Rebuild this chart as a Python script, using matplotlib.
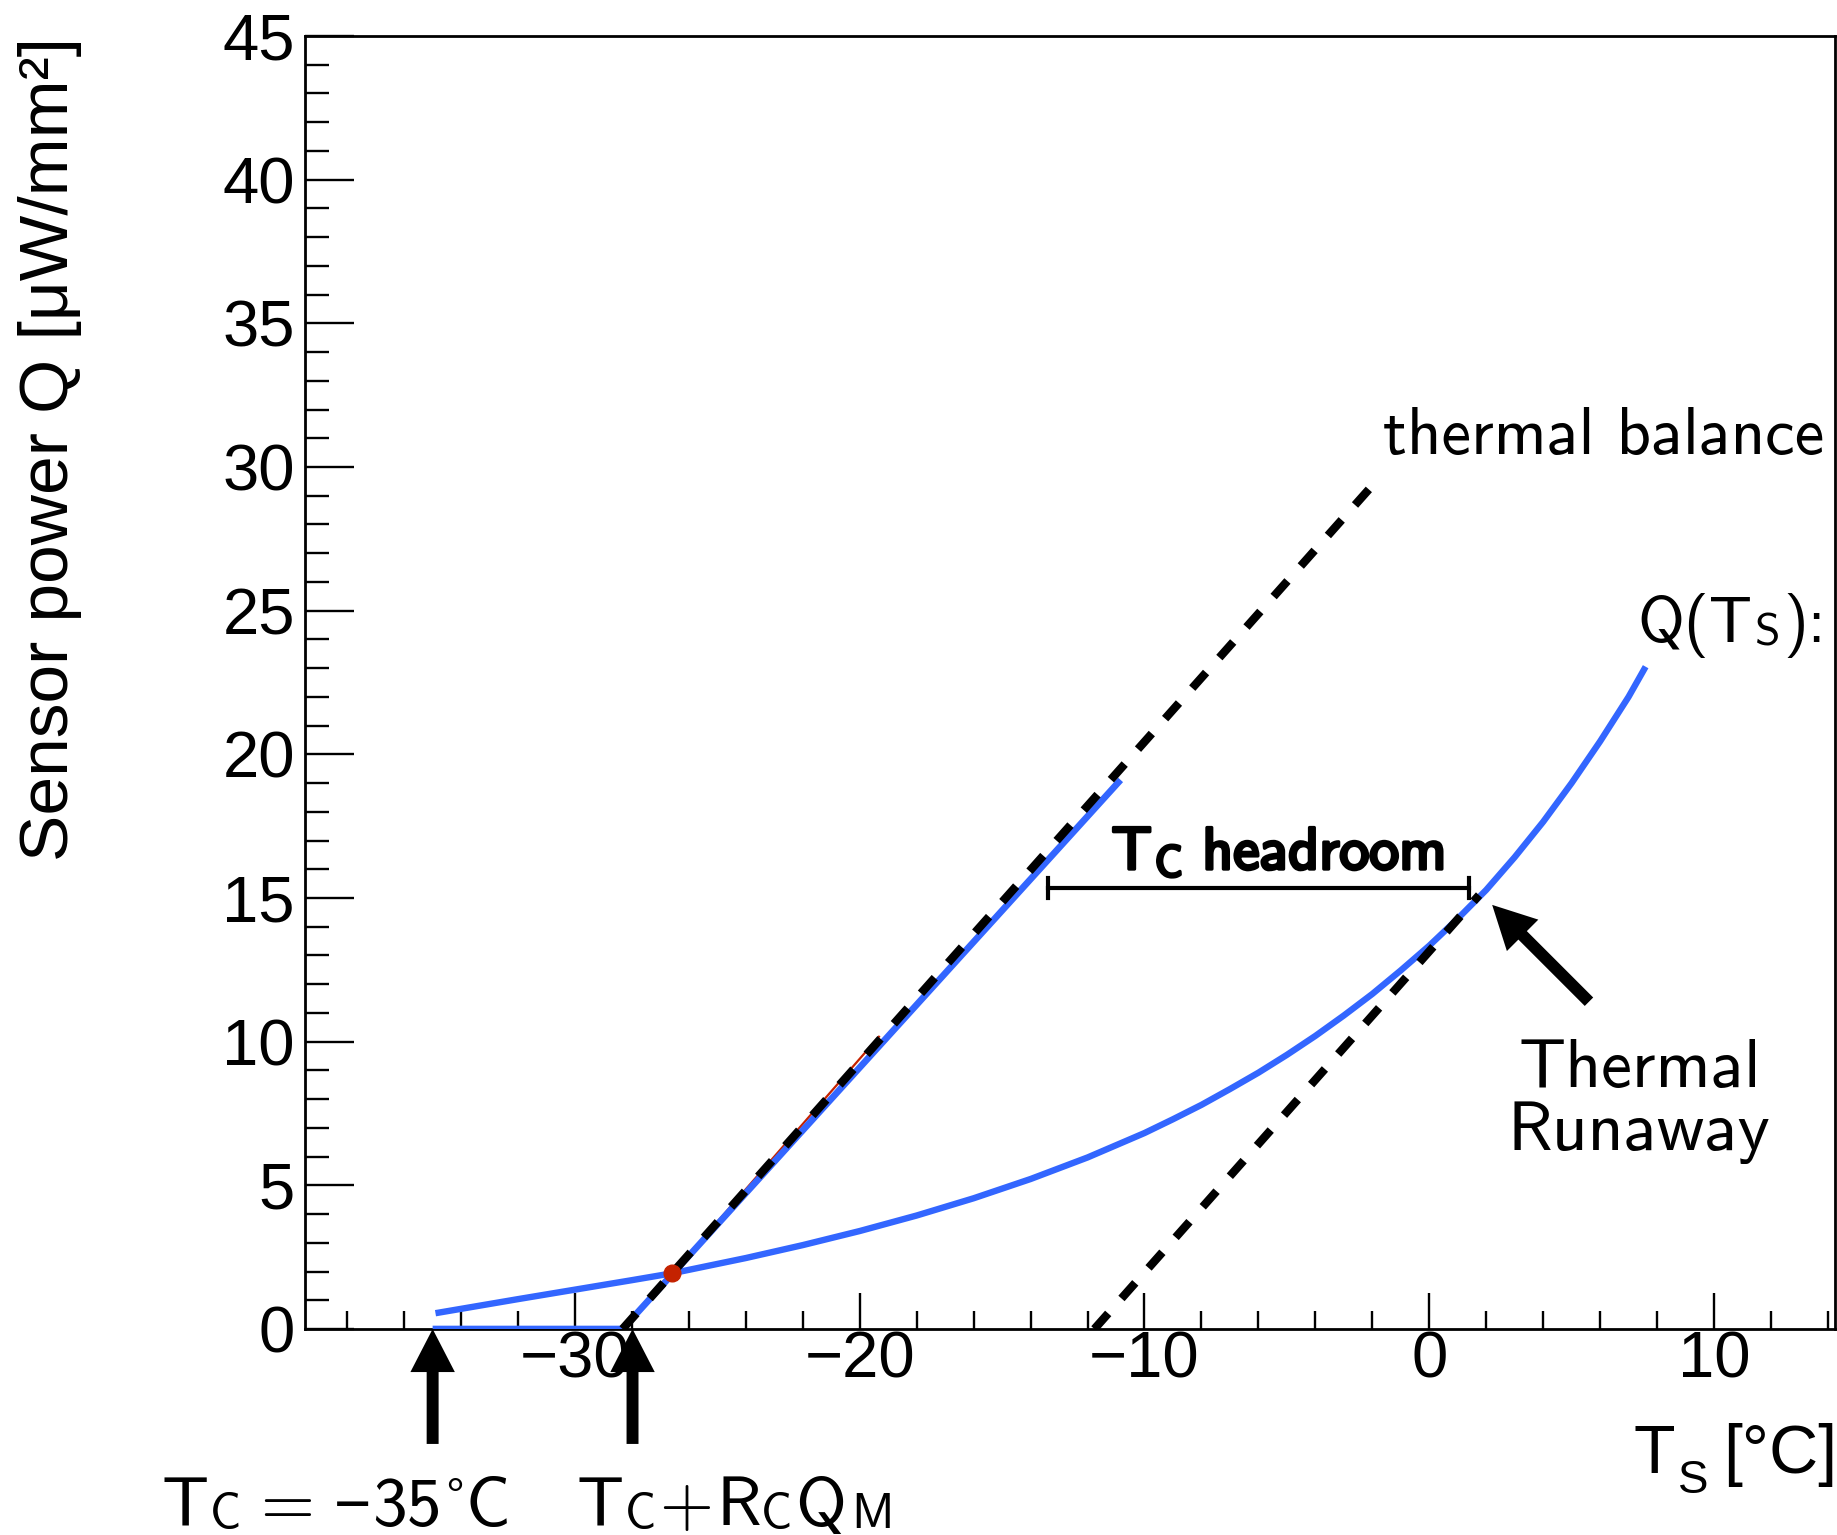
import matplotlib
matplotlib.use("Agg")
import matplotlib.pyplot as plt
import matplotlib.patheffects as pe
from matplotlib.ticker import MultipleLocator
from matplotlib.transforms import IdentityTransform

# ---------------- data ----------------
curve_T = [-34.9, -32.0, -30.0, -28.0, -26.58, -24.0, -22.0, -20.0, -18.0, -16.0, -14.0,
           -12.0, -10.0, -9.0, -8.0, -7.0, -6.0, -5.0, -4.0, -3.0, -2.0, -1.0, 0.0,
           1.0, 2.0, 3.0, 4.0, 5.0, 6.0, 7.0, 7.6]
curve_Q = [0.55, 1.04, 1.37, 1.70, 1.94, 2.47, 2.92, 3.41, 3.95, 4.55, 5.22,
           5.97, 6.82, 7.30, 7.80, 8.35, 8.92, 9.54, 10.20, 10.91, 11.66, 12.48, 13.34,
           14.28, 15.28, 16.42, 17.65, 19.00, 20.45, 22.00, 23.05]

cold_T = [-35.0, -28.33, -10.84]
cold_Q = [0.0, 0.0, 19.11]

balance1_T = [-28.33, -1.87]
balance1_Q = [0.0, 29.5]
balance2_T = [-11.76, 1.75]
balance2_Q = [0.0, 15.10]

red_T = [-26.58, -19.3]
red_Q = [1.94, 10.2]
op_T, op_Q = -26.58, 1.94

headroom_T = [-13.4, 1.4]
headroom_Q = 15.35

arrow_tips_T = [-35.0, -27.98]
arrow_tail_Q = -4.0
runaway_tip = (2.21, 14.76)
runaway_tail = (5.61, 11.39)

x_range = (-39.5, 14.25)
y_range = (0, 45)
x_major, x_minor = 10, 2
y_major, y_minor = 5, 1

BLUE = '#3366ff'
RED = '#c42200'
CM = 'cmss10'
HELV = 'Liberation Sans'

W, H = 1837, 1535
fig = plt.figure(figsize=(W / 100, H / 100), dpi=100)
ax = fig.add_axes([304.5 / W, 1 - 1329 / H, (1835 - 304.5) / W, (1329 - 36) / H])

ax.plot(red_T, red_Q, color=RED, lw=1.6, zorder=2, solid_capstyle='butt')
ax.plot(cold_T, cold_Q, color=BLUE, lw=4.8, zorder=3, solid_capstyle='butt')
ax.plot(curve_T, curve_Q, color=BLUE, lw=4.6, zorder=3, solid_capstyle='butt',
        solid_joinstyle='round')
for tt, qq in [(balance1_T, balance1_Q), (balance2_T, balance2_Q)]:
    ax.plot(tt, qq, color='black', lw=6, dashes=(2.5, 2.4), dash_capstyle='butt', zorder=4)
ax.plot([op_T], [op_Q], 'o', color=RED, ms=12, zorder=6)

# headroom bar
ax.plot(headroom_T, [headroom_Q, headroom_Q], color='black', lw=3, zorder=5)
for t in headroom_T:
    ax.plot([t, t], [headroom_Q - 0.36, headroom_Q + 0.36], color='black', lw=3, zorder=5)

# arrows
astyle = "simple,head_length=31,head_width=32,tail_width=8.6"
for t in arrow_tips_T:
    ax.annotate("", xy=(t, 0), xytext=(t, arrow_tail_Q),
                arrowprops=dict(arrowstyle=astyle, color='black', lw=0, mutation_scale=1,
                                shrinkA=0, shrinkB=0),
                annotation_clip=False, zorder=10)
ax.annotate("", xy=runaway_tip, xytext=runaway_tail,
            arrowprops=dict(arrowstyle=astyle, color='black', lw=0, mutation_scale=1,
                            shrinkA=0, shrinkB=0),
            annotation_clip=False, zorder=10)

ax.set_xlim(*x_range)
ax.set_ylim(*y_range)
ax.xaxis.set_major_locator(MultipleLocator(x_major))
ax.xaxis.set_minor_locator(MultipleLocator(x_minor))
ax.yaxis.set_major_locator(MultipleLocator(y_major))
ax.yaxis.set_minor_locator(MultipleLocator(y_minor))
ax.tick_params(axis='x', which='major', direction='in', length=26, width=1.7, pad=1,
               labelsize=47, top=False)
ax.tick_params(axis='x', which='minor', direction='in', length=13, width=1.7, top=False)
ax.tick_params(axis='y', which='major', direction='in', length=35, width=1.7, pad=7,
               labelsize=47, right=False)
ax.tick_params(axis='y', which='minor', direction='in', length=17, width=1.7, right=False)
for lab in ax.get_xticklabels() + ax.get_yticklabels():
    lab.set_fontfamily(HELV)
for s in ax.spines.values():
    s.set_linewidth(2.0)

renderer = fig.canvas.get_renderer()
ID = IdentityTransform()


def pieces_text(x, y_base, pieces, ha='center', **common):
    """Lay out text pieces side by side. x, y_base in reference pixels (top-left origin).
    pieces: (string, fontsize, family, drop_px, gap_px)."""
    objs = []
    cur = 0.0
    for s, size, fam, drop, gap in pieces:
        cur += gap
        t = fig.text(0, 0, s, fontsize=size, family=fam, ha='left', va='baseline',
                     transform=ID, **common)
        w = t.get_window_extent(renderer).width
        objs.append((t, cur, drop))
        cur += w
    if ha == 'center':
        x0 = x - cur / 2
    elif ha == 'right':
        x0 = x - cur
    else:
        x0 = x
    for t, off, drop in objs:
        t.set_position((x0 + off, H - (y_base + drop)))


# axis titles (Helvetica-like)
fig.text(50 / W, 1 - 37 / H, 'Sensor power Q [μW/mm²]', rotation=90, ha='center', va='top',
         fontsize=50, family=HELV)
pieces_text(1837, 1473, [('T', 49, HELV, 0, 0), ('S', 33, HELV, 20, 3),
                         ('[°C]', 49, HELV, 0, 14)], ha='right')

# annotations (CM sans)
fig.text(1824 / W, 1 - 454 / H, 'thermal balance', ha='right', va='baseline', fontsize=48,
         family=CM)
pieces_text(1826, 642, [('Q(T', 46, CM, 0, 0), ('S', 33, CM, 3, 3), ('):', 46, CM, 0, 3)],
            ha='right')
bold = dict(path_effects=[pe.withStroke(linewidth=2.4, foreground='black')])
pieces_text(1279, 869, [('T', 43, CM, 0, 0), ('C', 31, CM, 7, 3), ('headroom', 43, CM, 0, 20)],
            ha='center', **bold)
fig.text(1640 / W, 1 - 1087 / H, 'Thermal', ha='center', va='baseline', fontsize=50, family=CM)
fig.text(1639 / W, 1 - 1150 / H, 'Runaway', ha='center', va='baseline', fontsize=50, family=CM)
pieces_text(336, 1525, [('T', 50, CM, 0, 0), ('C', 35, CM, 3, 1), ('=', 50, CM, 0, 19),
                        ('−', 46, HELV, 0, 20), ('35', 50, CM, 0, 1), ('°', 34, HELV, -14, 3),
                        ('C', 50, CM, 0, 2)], ha='center')
pieces_text(735, 1525, [('T', 50, CM, 0, 0), ('C', 35, CM, 3, 1), ('+', 50, CM, 0, 4),
                        ('R', 50, CM, 0, 3), ('C', 35, CM, 3, 0), ('Q', 50, CM, 0, 3),
                        ('M', 35, CM, 3, 5)], ha='center')

fig.savefig('out.png', dpi=100)
